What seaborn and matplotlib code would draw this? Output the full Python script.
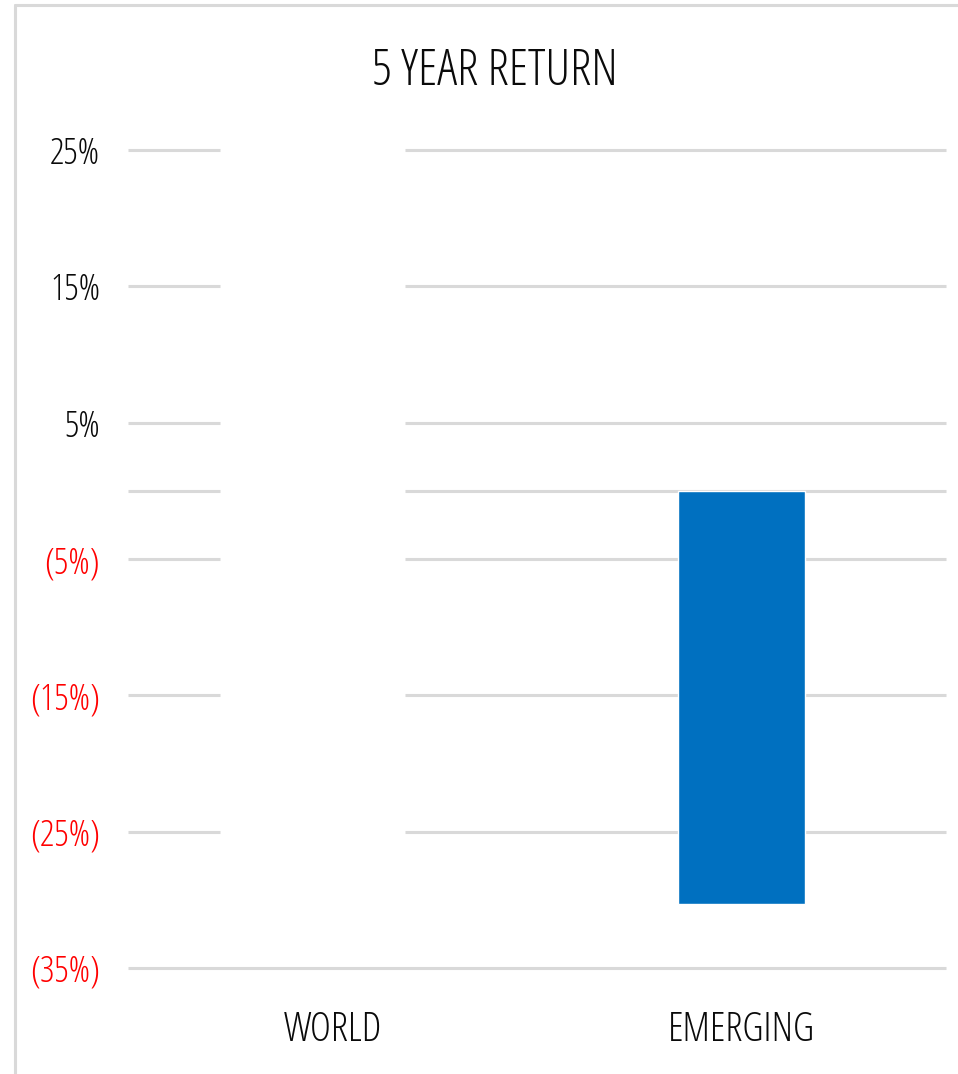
import numpy as np
import pandas as pd
import matplotlib
matplotlib.use("Agg")
import matplotlib.pyplot as plt
from matplotlib.lines import Line2D
import seaborn as sns

# ---- data ----
categories = ["WORLD", "EMERGING"]
returns = [0.0, -30.3]
tick_values = [25, 15, 5, -5, -15, -25, -35]
tick_labels = ["25%", "15%", "5%", "(5%)", "(15%)", "(25%)", "(35%)"]
grid_values = [25, 15, 5, 0, -5, -15, -25]
title = "5 YEAR RETURN"

sns.set_theme(style="white")
plt.rcParams["font.family"] = ["Open Sans", "DejaVu Sans"]
plt.rcParams["font.stretch"] = "condensed"
plt.rcParams["font.weight"] = "normal"

df = pd.DataFrame({"region": categories, "ret": returns})

fig = plt.figure(figsize=(9.58, 10.74), dpi=100)
ax = fig.add_axes([128/958, 1-968/1074, (946-128)/958, (968-150)/1074])

sns.barplot(data=df, x="region", y="ret", order=categories, color="#0070C0",
            saturation=1, width=0.31, ax=ax, zorder=3, errorbar=None)

ax.set_xlim(-0.5, 1.5)
ax.set_ylim(-35, 25)

grid_col = "#d9d9d9"
gap_lo, gap_hi = -0.275, 0.177
ax.hlines(grid_values, -0.5, gap_lo, color=grid_col, lw=2.2, zorder=1, clip_on=False)
ax.hlines(grid_values, gap_hi, 1.5, color=grid_col, lw=2.2, zorder=1, clip_on=False)
ax.hlines([-35], -0.5, 1.5, color=grid_col, lw=2.2, zorder=1, clip_on=False)

ax.set_yticks(tick_values)
ax.set_yticklabels(tick_labels)
for lab, v in zip(ax.get_yticklabels(), tick_values):
    lab.set_color("#ff0000" if v < 0 else "#0a0a0a")
ax.tick_params(axis="y", length=0, pad=20, labelsize=26)
ax.tick_params(axis="x", length=0, pad=30, labelsize=29, labelcolor="#0a0a0a")
ax.set_xlabel("")
ax.set_ylabel("")
for s in ax.spines.values():
    s.set_visible(False)

fig.text(495/958, 1-72/1074, title, ha="center", va="center", fontsize=36, color="#0a0a0a")

# outer frame (left and top)
fig.add_artist(Line2D([15/958, 15/958], [0, 1-5/1074], color=grid_col, lw=2.2))
fig.add_artist(Line2D([15/958, 1], [1-5/1074, 1-5/1074], color=grid_col, lw=2.2))

fig.savefig("out.png", dpi=100)
